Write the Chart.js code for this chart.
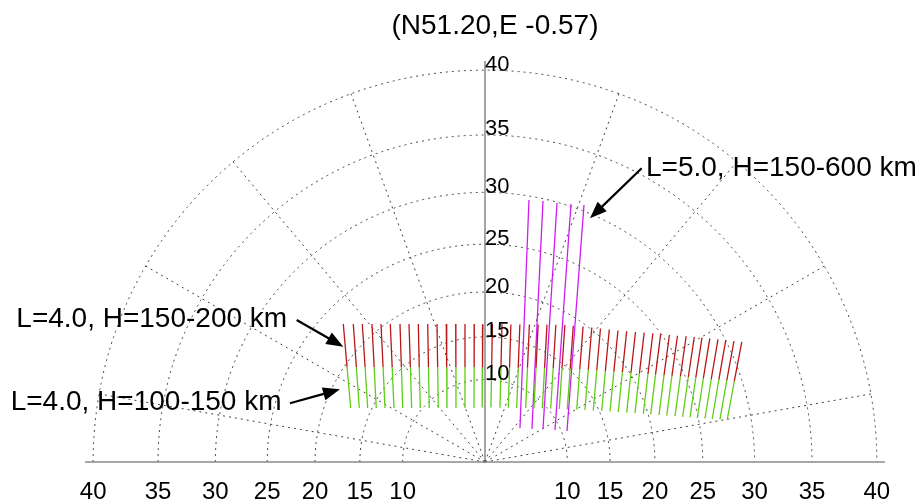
<!DOCTYPE html>
<html>
<head>
<meta charset="utf-8">
<title>(N51.20,E -0.57)</title>
<script src="https://cdn.jsdelivr.net/npm/chart.js@4.4.1/dist/chart.umd.min.js"></script>
<style>
  html, body { margin: 0; padding: 0; background: #fff; }
  #wrap { width: 921px; height: 503px; }
</style>
</head>
<body>
<div id="wrap"><canvas id="skyChart" width="921" height="503"></canvas></div>
<script>
// zenith rings (deg) - used for circles and both sets of tick labels
const zenithTicks = [10, 15, 20, 25, 30, 35, 40];
// azimuth spokes, degrees from the vertical axis
const spokeAzimuths = [-80, -60, -40, -20, 20, 40, 60, 80];

// L=4.0 field lines, sky plane coords (100*tan(zenith), east / up)
// top = 200 km, mid = 150 km, bottom = 100 km
const l4TopX = [-30.34, -28.20, -26.27, -24.20, -22.27, -20.28, -18.20, -16.27, -14.28, -12.27, -10.28, -8.29, -6.27, -4.28, -2.29,
  -0.45, 1.58, 3.64, 5.55, 7.47, 9.51, 11.39, 13.28, 15.18, 17.11, 18.91, 21.01, 22.87, 24.73, 26.62, 28.48,
  30.34, 32.23, 34.09, 35.95, 37.62, 39.49, 41.22, 43.08, 44.82, 46.47, 48.14, 49.89, 51.56, 53.32, 54.99];
const l4TopY = [29.55, 29.55, 29.55, 29.55, 29.55, 29.55, 29.55, 29.55, 29.55, 29.55, 29.55, 29.55, 29.55, 29.55, 29.55,
  29.49, 29.49, 29.49, 29.46, 29.46, 29.44, 29.44, 29.42, 29.40, 29.34, 29.19, 29.01, 28.80, 28.59, 28.37, 28.16,
  27.99, 27.84, 27.69, 27.56, 27.37, 27.19, 27.04, 26.92, 26.77, 26.62, 26.45, 26.27, 26.08, 25.91, 25.74];
const l4MidX = [-29.53, -27.54, -25.67, -23.73, -21.82, -19.87, -17.90, -15.97, -14.07, -12.10, -10.13, -8.20, -6.23, -4.28, -2.32,
  -0.53, 1.43, 3.42, 5.26, 7.12, 9.10, 10.93, 12.76, 14.61, 16.49, 18.25, 20.30, 22.12, 23.94, 25.78, 27.60,
  29.42, 31.26, 33.07, 34.90, 36.52, 38.34, 40.03, 41.85, 43.54, 45.14, 46.76, 48.46, 50.08, 51.78, 53.39];
const l4MidY = [20.28, 20.28, 20.28, 20.28, 20.28, 20.28, 20.28, 20.28, 20.28, 20.28, 20.28, 20.28, 20.28, 20.28, 20.28,
  20.19, 20.19, 20.19, 20.19, 20.19, 20.17, 20.17, 20.15, 20.13, 20.06, 19.98, 19.87, 19.76, 19.64, 19.49, 19.36,
  19.23, 19.10, 18.97, 18.84, 18.72, 18.59, 18.46, 18.33, 18.20, 18.07, 17.92, 17.77, 17.62, 17.47, 17.30];
const l4BotX = [-28.76, -26.92, -25.12, -23.28, -21.41, -19.49, -17.62, -15.70, -13.85, -11.93, -10.00, -8.14, -6.21, -4.28, -2.36,
  -0.60, 1.28, 3.21, 4.99, 6.79, 8.72, 10.49, 12.27, 14.07, 15.91, 17.62, 19.64, 21.41, 23.19, 24.99, 26.77,
  28.54, 30.34, 32.12, 33.90, 35.48, 37.26, 38.91, 40.69, 42.33, 43.90, 45.46, 47.11, 48.67, 50.32, 51.88];
const l4BotY = [11.56, 11.56, 11.56, 11.56, 11.56, 11.56, 11.56, 11.56, 11.56, 11.56, 11.56, 11.56, 11.56, 11.56, 11.56,
  11.67, 11.67, 11.63, 11.61, 11.56, 11.56, 11.52, 11.48, 11.43, 11.37, 11.31, 11.22, 11.13, 11.03, 10.92, 10.81,
  10.71, 10.58, 10.45, 10.34, 10.21, 10.06, 9.94, 9.81, 9.68, 9.55, 9.42, 9.31, 9.21, 9.14, 9.10];

// L=5.0 field lines, 600 km (top) down to 150 km (bottom)
const l5TopX = [9.42, 12.42, 15.42, 18.42, 21.20];
const l5TopY = [56.10, 55.89, 55.46, 55.25, 55.03];
const l5BotX = [7.49, 10.06, 12.42, 14.99, 17.56];
const l5BotY = [7.28, 7.07, 7.07, 6.85, 6.64];

const FONT = "'Liberation Sans', Arial, Helvetica, sans-serif";
const AXIS_REACH = 85.65; // horizon line / vertical axis half-length

function proj(deg) {
  return 100 * Math.tan((deg * Math.PI) / 180);
}

const xTickValues = [...zenithTicks].reverse().map((z) => -proj(z)).concat(zenithTicks.map(proj));
const xTickLabels = [...zenithTicks].reverse().concat(zenithTicks).map(String);

// arrows + captions, anchored in sky coords
const notes = [
  { text: "L=5.0, H=150-600 km", x: 34.48, y: 61.31, from: [33.55, 62.89], to: [22.48, 52.18] },
  { text: "L=4.0, H=150-200 km", x: -100.36, y: 28.84, from: [-40.32, 30.41], to: [-30.34, 24.69] },
  { text: "L=4.0, H=100-150 km", x: -101.56, y: 11.13, from: [-41.76, 12.57], to: [-31.05, 15.57] },
];

function segments(x0, y0, x1, y1) {
  const pts = [];
  for (let i = 0; i < x0.length; i++) {
    pts.push({ x: x0[i], y: y0[i] }, { x: x1[i], y: y1[i] }, { x: null, y: null });
  }
  return pts;
}

function lineSet(label, data, color) {
  return {
    label,
    data,
    showLine: true,
    spanGaps: false,
    borderColor: color,
    borderWidth: 1.3,
    pointRadius: 0,
    pointHoverRadius: 0,
    tension: 0,
  };
}

function drawArrow(ctx, x0, y0, x1, y1) {
  const ang = Math.atan2(y1 - y0, x1 - x0);
  const len = 17;
  const half = 6.5;
  const bx = x1 - len * Math.cos(ang);
  const by = y1 - len * Math.sin(ang);
  ctx.beginPath();
  ctx.moveTo(x0, y0);
  ctx.lineTo(bx + 2 * Math.cos(ang), by + 2 * Math.sin(ang));
  ctx.stroke();
  ctx.beginPath();
  ctx.moveTo(x1, y1);
  ctx.lineTo(bx + half * Math.sin(ang), by - half * Math.cos(ang));
  ctx.lineTo(bx - half * Math.sin(ang), by + half * Math.cos(ang));
  ctx.closePath();
  ctx.fill();
}

const skyGrid = {
  id: "skyGrid",
  beforeDatasetsDraw(chart) {
    const { ctx } = chart;
    const xs = chart.scales.x;
    const ys = chart.scales.y;
    const cx = xs.getPixelForValue(0);
    const cy = ys.getPixelForValue(0);
    ctx.save();
    ctx.strokeStyle = "#444";
    ctx.lineWidth = 1;
    ctx.setLineDash([2, 4]);
    zenithTicks.forEach((z) => {
      const r = xs.getPixelForValue(proj(z)) - cx;
      ctx.beginPath();
      ctx.arc(cx, cy, r, Math.PI, 2 * Math.PI);
      ctx.stroke();
    });
    const rMax = proj(40);
    spokeAzimuths.forEach((a) => {
      const t = (a * Math.PI) / 180;
      ctx.beginPath();
      ctx.moveTo(cx, cy);
      ctx.lineTo(xs.getPixelForValue(rMax * Math.sin(t)), ys.getPixelForValue(rMax * Math.cos(t)));
      ctx.stroke();
    });
    ctx.setLineDash([]);
    ctx.strokeStyle = "#8a8a8a";
    ctx.lineWidth = 1.5;
    ctx.beginPath();
    ctx.moveTo(xs.getPixelForValue(-AXIS_REACH), cy);
    ctx.lineTo(xs.getPixelForValue(AXIS_REACH), cy);
    ctx.stroke();
    ctx.restore();
  },
  afterDatasetsDraw(chart) {
    const { ctx } = chart;
    const xs = chart.scales.x;
    const ys = chart.scales.y;
    const cx = xs.getPixelForValue(0);
    ctx.save();
    ctx.fillStyle = "#000";
    ctx.font = `22px ${FONT}`;
    ctx.textAlign = "left";
    ctx.textBaseline = "alphabetic";
    zenithTicks.forEach((z) => {
      ctx.fillText(String(z), cx, ys.getPixelForValue(proj(z)) + 0.5);
    });

    ctx.strokeStyle = "#000";
    ctx.lineWidth = 2.2;
    ctx.font = `28px ${FONT}`;
    notes.forEach((n) => {
      drawArrow(
        ctx,
        xs.getPixelForValue(n.from[0]), ys.getPixelForValue(n.from[1]),
        xs.getPixelForValue(n.to[0]), ys.getPixelForValue(n.to[1])
      );
      ctx.fillText(n.text, xs.getPixelForValue(n.x), ys.getPixelForValue(n.y));
    });
    ctx.restore();
  },
};

Chart.defaults.font.family = FONT;

new Chart(document.getElementById("skyChart"), {
  type: "scatter",
  data: {
    datasets: [
      lineSet("L=4.0, H=150-200 km", segments(l4TopX, l4TopY, l4MidX, l4MidY), "rgb(185, 22, 22)"),
      lineSet("L=4.0, H=100-150 km", segments(l4MidX, l4MidY, l4BotX, l4BotY), "rgb(95, 205, 20)"),
      lineSet("L=5.0, H=150-600 km", segments(l5TopX, l5TopY, l5BotX, l5BotY), "rgb(205, 30, 240)"),
    ],
  },
  options: {
    responsive: false,
    animation: false,
    events: [],
    layout: { padding: { left: 85, right: 16, top: 0, bottom: 0 } },
    plugins: {
      legend: { display: false },
      tooltip: { enabled: false },
      title: {
        display: true,
        text: "(N51.20,E -0.57)",
        color: "#000",
        font: { family: FONT, size: 28, weight: "normal" },
        padding: { top: 9.7, bottom: 18.7 },
      },
    },
    scales: {
      x: {
        type: "linear",
        min: -AXIS_REACH,
        max: 89.94,
        grid: { display: false, drawTicks: false },
        border: { display: false },
        afterBuildTicks: (scale) => {
          scale.ticks = xTickValues.map((v) => ({ value: v }));
        },
        afterFit: (scale) => {
          scale.height = 41;
        },
        ticks: {
          autoSkip: false,
          maxRotation: 0,
          padding: 15.6,
          color: "#000",
          font: { size: 24 },
          callback: (value, index) => xTickLabels[index],
        },
      },
      y: {
        type: "linear",
        min: 0,
        max: AXIS_REACH,
        position: { x: 0 },
        grid: { display: false, drawTicks: false },
        border: { display: true, color: "#a6a6a6", width: 2 },
        ticks: { display: false },
      },
    },
  },
  plugins: [skyGrid],
});
</script>
</body>
</html>
